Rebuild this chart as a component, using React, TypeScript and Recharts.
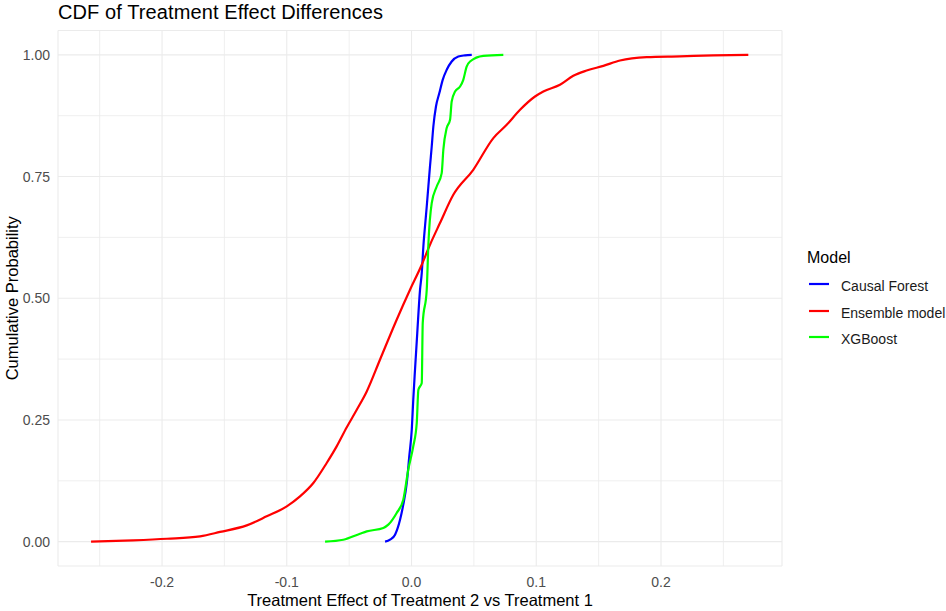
import React from "react";
import {
  LineChart,
  Line,
  XAxis,
  YAxis,
  CartesianGrid,
  ReferenceLine,
  Label,
} from "recharts";

// ---- Data ----
const causalForestX = [
  -0.0212, -0.0172, -0.0132, -0.0092, -0.0066, -0.0038, -0.0018, 0.0002, 0.0014,
  0.0028, 0.0046, 0.0068, 0.0082, 0.0095, 0.0108, 0.0122, 0.0135, 0.0148, 0.0162,
  0.0175, 0.0196, 0.0223, 0.025, 0.0282, 0.0322, 0.0375, 0.0429, 0.0483,
];
const causalForestY = [
  0, 0.004, 0.0144, 0.045, 0.076, 0.1205, 0.175, 0.23, 0.2916, 0.3532, 0.4285,
  0.5168, 0.5517, 0.6064, 0.6474, 0.6885, 0.7296, 0.7706, 0.8117, 0.8528, 0.8938,
  0.9214, 0.9487, 0.9692, 0.9863, 0.9966, 0.999, 1.0,
];

const ensembleX = [
  -0.2569, -0.2232, -0.196, -0.1695, -0.1535, -0.1321, -0.1161, -0.1, -0.0894,
  -0.0787, -0.068, -0.06, -0.0519, -0.0439, -0.0359, -0.0253, -0.0119, -0.0012,
  0.0082, 0.0148, 0.0228, 0.0335, 0.0495, 0.0656, 0.0763, 0.087, 0.099, 0.1057,
  0.119, 0.1297, 0.1404, 0.1538, 0.1671, 0.1885, 0.2152, 0.2419, 0.27,
];
const ensembleY = [
  0, 0.0027, 0.006, 0.011, 0.02, 0.0335, 0.052, 0.0725, 0.093, 0.1205, 0.1616,
  0.1957, 0.235, 0.271, 0.3086, 0.3737, 0.4559, 0.5175, 0.5688, 0.6099, 0.6544,
  0.7125, 0.7639, 0.829, 0.8563, 0.8871, 0.9144, 0.9246, 0.9384, 0.9569, 0.9678,
  0.9774, 0.9883, 0.9953, 0.997, 0.999, 1.0,
];

const xgboostX = [
  -0.0693, -0.0547, -0.0413, -0.0359, -0.0226, -0.0186, -0.0119, -0.0066, -0.0026,
  0.0014, 0.0042, 0.0055, 0.0082, 0.009, 0.0122, 0.0135, 0.0162, 0.0202, 0.0242,
  0.0255, 0.0282, 0.0309, 0.0322, 0.0349, 0.0389, 0.0415, 0.0442, 0.0469, 0.0576,
  0.0736,
];
const xgboostY = [
  0, 0.004, 0.0164, 0.0212, 0.0281, 0.0349, 0.0589, 0.0862, 0.1478, 0.1957, 0.2437,
  0.3121, 0.3259, 0.4491, 0.5175, 0.6099, 0.6955, 0.7296, 0.7571, 0.8049, 0.8495,
  0.8665, 0.9041, 0.9246, 0.9349, 0.9487, 0.976, 0.9863, 0.998, 1.0,
];

const xTicks = [-0.2, -0.1, 0, 0.1, 0.2];
const xMinor = [-0.25, -0.15, -0.05, 0.05, 0.15, 0.25];
const yTicks = [0, 0.25, 0.5, 0.75, 1];
const yMinor = [0.125, 0.375, 0.625, 0.875];

const seriesNames = ["Causal Forest", "Ensemble model", "XGBoost"];
const seriesColors = ["#0000FF", "#FF0000", "#00FF00"];

const toPoints = (xs: number[], ys: number[]) => xs.map((x, i) => ({ x, y: ys[i] }));
const seriesData = [
  toPoints(causalForestX, causalForestY),
  toPoints(ensembleX, ensembleY),
  toPoints(xgboostX, xgboostY),
];

const FONT = "'Liberation Sans', Arial, sans-serif";
const W = 946;
const H = 611;
const GRID = "#EBEBEB";

export default function App() {
  return (
    <div style={{ position: "absolute", left: 0, top: 0, width: W, height: H, background: "#fff", fontFamily: FONT }}>
      <LineChart
        width={W}
        height={H}
        margin={{ top: 30.5, right: 164, bottom: 0, left: 0 }}
        style={{ fontFamily: FONT }}
      >
        <CartesianGrid stroke={GRID} strokeWidth={1.1} />
        {xMinor.map((v) => (
          <ReferenceLine key={"xm" + v} x={v} stroke={GRID} strokeWidth={0.8} />
        ))}
        {yMinor.map((v) => (
          <ReferenceLine key={"ym" + v} y={v} stroke={GRID} strokeWidth={0.8} />
        ))}
        <XAxis
          type="number"
          dataKey="x"
          domain={[-0.2834, 0.297]}
          ticks={xTicks}
          allowDataOverflow
          axisLine={false}
          tickLine={false}
          tickSize={0}
          tickMargin={11}
          height={45}
          interval={0}
          tickFormatter={(v: number) => v.toFixed(1)}
          tick={{ fill: "#4D4D4D", fontSize: 14, fontFamily: FONT }}
        >
          <Label
            content={(props: any) => {
              const vb = props.viewBox || {};
              return (
                <text
                  x={vb.x + vb.width / 2}
                  y={606}
                  textAnchor="middle"
                  fontSize={16.5}
                  fill="#000"
                  fontFamily={FONT}
                >
                  Treatment Effect of Treatment 2 vs Treatment 1
                </text>
              );
            }}
          />
        </XAxis>
        <YAxis
          type="number"
          dataKey="y"
          domain={[-0.05, 1.05]}
          ticks={yTicks}
          allowDataOverflow
          axisLine={false}
          tickLine={false}
          tickSize={0}
          tickMargin={8}
          width={58}
          interval={0}
          tickFormatter={(v: number) => v.toFixed(2)}
          tick={{ fill: "#4D4D4D", fontSize: 14, fontFamily: FONT }}
        >
          <Label
            content={(props: any) => {
              const vb = props.viewBox || {};
              const cy = vb.y + vb.height / 2;
              return (
                <text
                  x={18}
                  y={cy}
                  transform={`rotate(-90, 18, ${cy})`}
                  textAnchor="middle"
                  fontSize={16.5}
                  fill="#000"
                  fontFamily={FONT}
                >
                  Cumulative Probability
                </text>
              );
            }}
          />
        </YAxis>
        {seriesData.map((d, i) => (
          <Line
            key={seriesNames[i]}
            data={d}
            dataKey="y"
            name={seriesNames[i]}
            type="monotoneX"
            stroke={seriesColors[i]}
            strokeWidth={2.2}
            dot={false}
            activeDot={false}
            isAnimationActive={false}
          />
        ))}
      </LineChart>
      <svg
        width={W}
        height={H}
        style={{ position: "absolute", left: 0, top: 0, pointerEvents: "none" }}
      >
        <text x={58} y={18.5} fontSize={20} letterSpacing={0.1} fill="#000" fontFamily={FONT}>
          CDF of Treatment Effect Differences
        </text>
        <text x={807} y={263} fontSize={16} fill="#000" fontFamily={FONT}>
          Model
        </text>
        {seriesNames.map((name, i) => {
          const ly = [284, 311, 337][i];
          return (
            <g key={name}>
              <line x1={809} x2={829} y1={ly} y2={ly} stroke={seriesColors[i]} strokeWidth={2.2} />
              <text x={841} y={ly + 6.5} fontSize={14} fill="#1A1A1A" fontFamily={FONT}>
                {name}
              </text>
            </g>
          );
        })}
      </svg>
    </div>
  );
}
